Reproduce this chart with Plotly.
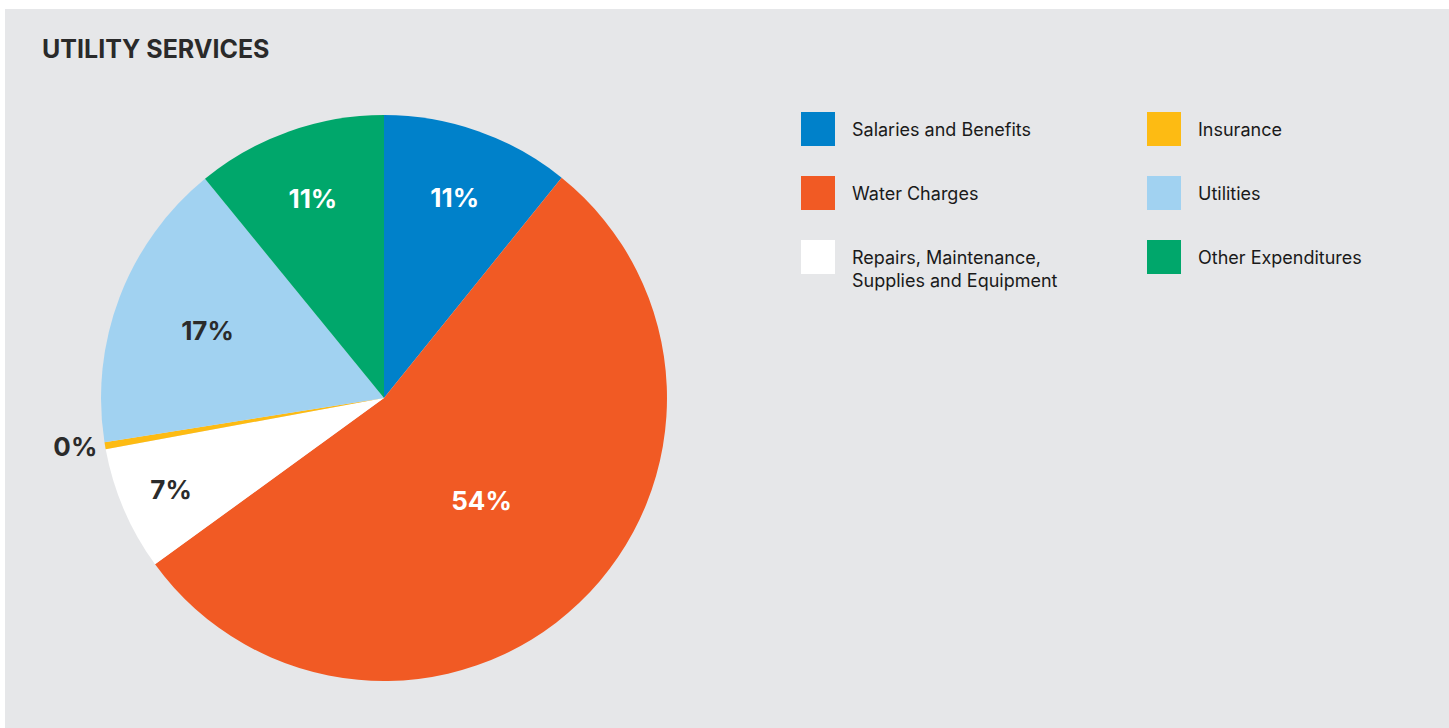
import plotly.graph_objects as go

# Spending breakdown for utility services (share of total, %)
categories = [
    "Salaries and Benefits",
    "Water Charges",
    "Repairs, Maintenance, Supplies and Equipment",
    "Insurance",
    "Utilities",
    "Other Expenditures",
]
shares = [10.8, 54.2, 7.1, 0.4, 16.6, 10.9]
colors = ["#0081CA", "#F15A24", "#FFFFFF", "#FDBB13", "#A1D2F1", "#00A76B"]
label_colors = ["#FFFFFF", "#FFFFFF", "#2B2B2B", "#2B2B2B", "#2B2B2B", "#FFFFFF"]

# Legend entries in two columns, filled top-to-bottom
legend_text = [
    "Salaries and Benefits",
    "Water Charges",
    "Repairs, Maintenance,<br>Supplies and Equipment",
    "Insurance",
    "Utilities",
    "Other Expenditures",
]

W, H = 1449, 728
BG = "#E6E7E9"
FONT = "Inter"

fig = go.Figure()
fig.add_trace(
    go.Pie(
        labels=categories,
        values=shares,
        sort=False,
        direction="clockwise",
        rotation=0,
        marker=dict(colors=colors, line=dict(width=0)),
        texttemplate="%{percent:.0%}",
        textposition=["inside", "inside", "inside", "outside", "inside", "inside"],
        insidetextorientation="horizontal",
        textfont=dict(family=FONT, size=26, color=label_colors, weight=700),
        outsidetextfont=dict(family=FONT, size=26, color="#2B2B2B", weight=700),
        domain=dict(x=[101 / W, 667 / W], y=[47 / H, 613 / H]),
        showlegend=False,
        hoverinfo="label+percent",
    )
)

shapes = [
    # grey card behind the chart
    dict(type="rect", xref="paper", yref="paper",
         x0=5 / W, x1=1, y0=0, y1=(H - 9) / H,
         fillcolor=BG, line=dict(width=0), layer="below"),
]
annotations = [
    dict(text="UTILITY SERVICES", xref="paper", yref="paper",
         x=40 / W, y=(H - 49) / H, xanchor="left", yanchor="middle",
         showarrow=False,
         font=dict(family=FONT, size=25, color="#2A2A2A", weight=700)),
]

# Two-column legend built from squares and labels
col_x = [801, 1147]
row_y = [129, 193, 257]
sq = 34
for k, txt in enumerate(legend_text):
    col, row = divmod(k, 3)
    x0 = col_x[col]
    yc = row_y[row]
    shapes.append(dict(
        type="rect", xref="paper", yref="paper",
        x0=x0 / W, x1=(x0 + sq) / W,
        y0=(H - (yc + sq / 2)) / H, y1=(H - (yc - sq / 2)) / H,
        fillcolor=colors[k], line=dict(width=0),
    ))
    annotations.append(dict(
        text=txt, xref="paper", yref="paper",
        x=(x0 + 49) / W, y=(H - (yc - 12)) / H,
        xanchor="left", yanchor="top", align="left", showarrow=False,
        font=dict(family=FONT, size=18, color="#1A1A1A"),
    ))

fig.update_layout(
    width=W, height=H,
    margin=dict(l=0, r=0, t=0, b=0),
    paper_bgcolor="#FFFFFF",
    plot_bgcolor=BG,
    shapes=shapes,
    annotations=annotations,
)

fig.write_html("out.html")
